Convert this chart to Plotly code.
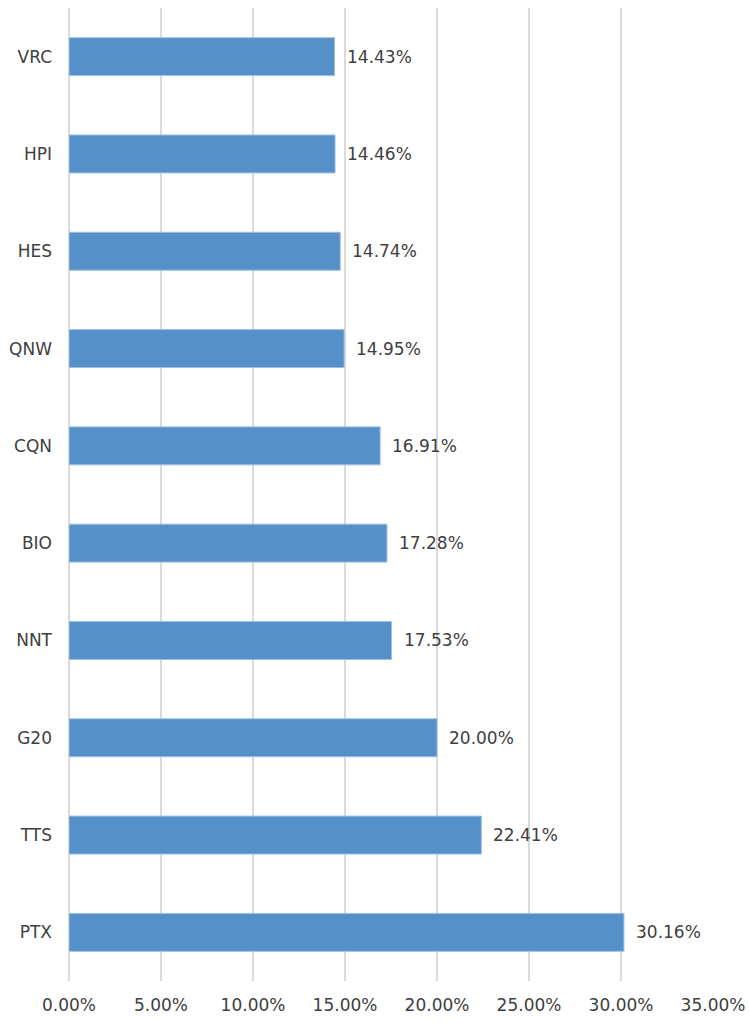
import plotly.graph_objects as go

categories = ["VRC", "HPI", "HES", "QNW", "CQN", "BIO", "NNT", "G20", "TTS", "PTX"]
values = [14.43, 14.46, 14.74, 14.95, 16.91, 17.28, 17.53, 20.00, 22.41, 30.16]
tick_vals = [0, 5, 10, 15, 20, 25, 30, 35]
tick_text = [f"{v:.2f}%" for v in tick_vals]

FONT = "DejaVu Sans"
TXT = "#404040"

fig = go.Figure()
fig.add_trace(go.Bar(
    x=values, y=categories, orientation="h",
    width=0.39,
    marker=dict(color="#5590C8", line=dict(color="#9DBFE3", width=1)),
    hoverinfo="x+y",
))
for c, v in zip(categories, values):
    fig.add_annotation(x=v, y=c, text=f"{v:.2f}%", showarrow=False,
                       xanchor="left", xshift=10,
                       font=dict(family=FONT, size=17, color=TXT))

fig.update_layout(
    width=749, height=1025,
    margin=dict(l=69, r=36, t=8, b=44, pad=0, autoexpand=False),
    paper_bgcolor="white", plot_bgcolor="white",
    showlegend=False,
    bargap=0.61,
    font=dict(family=FONT, size=17, color=TXT),
)
fig.update_xaxes(
    range=[0, 35], tickvals=tick_vals, ticktext=tick_text,
    showgrid=True, gridcolor="#DADADA", gridwidth=1.5,
    zeroline=True, zerolinecolor="#DADADA", zerolinewidth=1.5,
    showline=False, ticks="", ticklabelstandoff=12, automargin=False,
    tickfont=dict(family=FONT, size=17, color=TXT),
)
fig.update_yaxes(
    categoryorder="array", categoryarray=categories, autorange="reversed",
    showgrid=False, zeroline=False, showline=False, ticks="",
    ticklabelstandoff=16, automargin=False,
    tickfont=dict(family=FONT, size=17, color=TXT),
)
fig.write_html("out.html", config={"displayModeBar": False},
               post_script="document.body.style.margin='0';document.body.style.overflow='hidden';")
